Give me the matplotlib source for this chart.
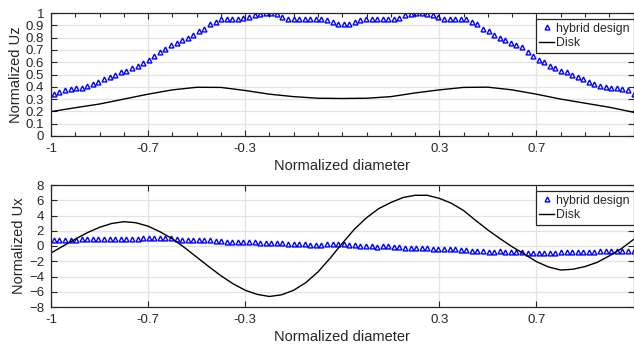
import numpy as np
import matplotlib
matplotlib.use('Agg')
import matplotlib.pyplot as plt

plt.rcParams['font.family'] = ['Liberation Sans', 'DejaVu Sans']

# x axis runs 0..6 with MATLAB-style custom tick labels
tick_pos = [0, 1, 2, 4, 5]
tick_lab = ['-1', '-0.7', '-0.3', '0.3', '0.7']

hyb_uz = [0.34, 0.36, 0.37, 0.38, 0.39, 0.39, 0.41, 0.42, 0.44, 0.46,
          0.48, 0.50, 0.52, 0.53, 0.55, 0.57, 0.59, 0.62, 0.65, 0.68,
          0.71, 0.74, 0.76, 0.78, 0.80, 0.82, 0.85, 0.87, 0.91, 0.93,
          0.95, 0.95, 0.95, 0.95, 0.96, 0.97, 0.98, 0.995, 1.0, 1.0,
          0.99, 0.97, 0.95, 0.95, 0.95, 0.95, 0.95, 0.95, 0.95, 0.94,
          0.93, 0.91, 0.91, 0.91, 0.93, 0.94, 0.95, 0.95, 0.95, 0.95,
          0.95, 0.95, 0.96, 0.98, 0.995, 1.0, 1.0, 0.995, 0.98, 0.97,
          0.95, 0.95, 0.95, 0.95, 0.95, 0.93, 0.91, 0.87, 0.85, 0.82,
          0.80, 0.78, 0.76, 0.74, 0.72, 0.68, 0.65, 0.62, 0.60, 0.57,
          0.55, 0.53, 0.52, 0.50, 0.48, 0.46, 0.44, 0.42, 0.41, 0.40,
          0.39, 0.39, 0.38, 0.37, 0.34]

# hybrid design, Ux
hyb_ux = [0.8, 0.8, 0.78, 0.8, 0.82,
          0.88, 0.9, 0.92, 0.92, 0.95, 0.95, 0.95, 0.92, 0.9, 0.92, 0.98,
          1.05, 1.1, 1.1, 1.08, 1.1, 1.05,
          0.95, 0.85, 0.8, 0.82, 0.8, 0.78, 0.75, 0.7,
          0.62, 0.58, 0.55, 0.57, 0.55, 0.52, 0.5, 0.42,
          0.38, 0.35, 0.35, 0.33, 0.3, 0.32, 0.3, 0.25, 0.15,
          0.12, 0.15, 0.2, 0.22, 0.22, 0.2, 0.15, 0.12,
          0.05, 0.0, -0.05, -0.08, -0.05, -0.05, -0.08,
          -0.15, -0.2, -0.25, -0.3, -0.3, -0.3, -0.35, -0.35,
          -0.4, -0.45, -0.45, -0.5, -0.55, -0.6,
          -0.7, -0.72, -0.75, -0.75, -0.72, -0.75, -0.78, -0.8, -0.85, -0.88, -0.9,
          -0.92, -0.95, -0.95, -0.9, -0.85, -0.85,
          -0.8, -0.8, -0.78, -0.75, -0.75, -0.7, -0.7, -0.65,
          -0.65, -0.6, -0.6, -0.62]

# disk, Uz (every 0.25 units)
disk_uz = [0.198, 0.23, 0.26, 0.30, 0.34, 0.375, 0.396, 0.395, 0.37, 0.34,
           0.32, 0.307, 0.305, 0.307, 0.32, 0.35, 0.375, 0.395, 0.397, 0.375,
           0.34, 0.30, 0.267, 0.234, 0.193]

# disk, Ux (every 0.125 units)
disk_ux = [-0.92, 0.0, 0.9, 1.75, 2.45, 2.95, 3.19, 3.05, 2.6, 1.85,
           0.95, -0.2, -1.45, -2.7, -3.9, -4.95, -5.8, -6.35, -6.62, -6.4,
           -5.8, -4.8, -3.4, -1.6, 0.35, 2.2, 3.7, 4.9, 5.7, 6.35,
           6.65, 6.65, 6.25, 5.6, 4.65, 3.35, 2.1, 0.97, -0.1, -1.05,
           -2.05, -2.75, -3.15, -3.05, -2.7, -2.15, -1.3, -0.35, 0.85]

x_hyb = np.linspace(0.03, 6.0, len(hyb_uz))
x_hyb2 = np.linspace(0.03, 6.0, len(hyb_ux))
x_dz = np.linspace(0, 6, len(disk_uz))
x_dx = np.linspace(0, 6, len(disk_ux))

txt = '#262626'
fig = plt.figure(figsize=(6.34, 3.46), dpi=100)
ax1 = fig.add_axes([51/634, 1-136/346, 582.5/634, 123/346])
ax2 = fig.add_axes([51/634, 1-307/346, 582.5/634, 122/346])


def style(ax, minor):
    ax.set_xlim(0, 6)
    ax.set_xticks(tick_pos)
    ax.set_xticklabels(tick_lab)
    if minor:
        ax.set_xticks(np.arange(0, 6.01, 0.25), minor=True)
    ax.tick_params(which='both', direction='in', top=True, right=True,
                   colors=txt, labelsize=9.5, width=0.8)
    ax.tick_params(which='major', length=4, pad=5)
    ax.tick_params(which='minor', length=3)
    ax.grid(True, which='major', color='#e3e3e3', lw=0.9)
    ax.set_axisbelow(True)
    for s in ax.spines.values():
        s.set_color(txt)
        s.set_linewidth(0.9)
    ax.set_xlabel('Normalized diameter', fontsize=10.5, color=txt, labelpad=3)


ax1.plot(x_hyb, hyb_uz, '^', color='blue', mfc='none', mew=1.0, ms=3.5,
         label='hybrid design')
ax1.plot(x_dz, disk_uz, '-', color='black', lw=1, label='Disk')
style(ax1, True)
ax1.set_ylim(0, 1)
ax1.set_yticks(np.arange(0, 1.01, 0.1))
ax1.set_yticklabels(['0', '0.1', '0.2', '0.3', '0.4', '0.5', '0.6', '0.7',
                     '0.8', '0.9', '1'])
ax1.set_ylabel('Normalized Uz', fontsize=10.5, color=txt, labelpad=2)

ax2.plot(x_hyb2, hyb_ux, '^', color='blue', mfc='none', mew=1.0, ms=3.5,
         label='hybrid design')
ax2.plot(x_dx, disk_ux, '-', color='black', lw=1, label='Disk')
style(ax2, False)
ax2.set_ylim(-8, 8)
ax2.set_yticks(np.arange(-8, 8.1, 2))
ax2.set_ylabel('Normalized Ux', fontsize=10.5, color=txt, labelpad=2)

for ax in (ax1, ax2):
    leg = ax.legend(loc='upper right', bbox_to_anchor=(1.0, 0.951),
                    borderaxespad=0, fontsize=8.8, fancybox=False,
                    framealpha=1, edgecolor=txt, handlelength=1.2,
                    handletextpad=0.2, borderpad=0.3, labelspacing=0.2)
    leg.get_frame().set_linewidth(0.9)
    for t in leg.get_texts():
        t.set_color(txt)

fig.savefig('out.png', dpi=100)
